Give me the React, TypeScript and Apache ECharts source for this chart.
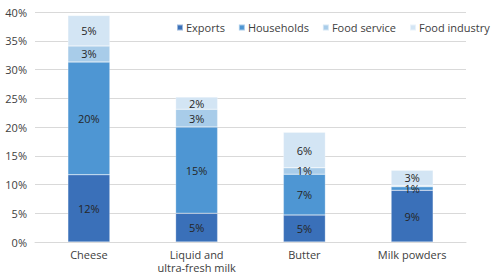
import React, { useEffect, useRef } from "react";
import * as echarts from "echarts";

const categories = ["Cheese", "Liquid and\nultra-fresh milk", "Butter", "Milk powders"];
const seriesNames = ["Exports", "Households", "Food service", "Food industry"];
const exportsVals = [11.7, 5.0, 4.7, 9.0];
const householdsVals = [19.6, 15.0, 7.1, 0.6];
const foodServiceVals = [2.8, 3.1, 1.1, 0.2];
const foodIndustryVals = [5.3, 2.1, 6.2, 2.7];
const colors = ["#3A70B9", "#4E96D3", "#A8CCE9", "#D3E5F4"];
const yTicks = [0, 5, 10, 15, 20, 25, 30, 35, 40];

export default function App() {
  const ref = useRef<HTMLDivElement>(null);
  useEffect(() => {
    if (!ref.current) return;
    const chart = echarts.init(ref.current, undefined, { renderer: "svg" });
    const font = "'Open Sans', sans-serif";
    const data = [exportsVals, householdsVals, foodServiceVals, foodIndustryVals];
    chart.setOption({
      animation: false,
      textStyle: { fontFamily: font },
      color: colors,
      legend: {
        top: 22,
        left: 176,
        width: 400,
        padding: 0,
        itemWidth: 6,
        itemHeight: 6,
        itemGap: 13,
        icon: "rect",
        textStyle: { fontSize: 11, color: "#404040", fontFamily: font, padding: [0, 0, 0, -2] },
        data: seriesNames,
      },
      grid: { left: 35, right: 27, top: 12, bottom: 28, containLabel: false },
      xAxis: {
        type: "category",
        data: categories,
        axisLine: { lineStyle: { color: "#d9d9d9" } },
        axisTick: { show: false },
        axisLabel: { color: "#404040", fontSize: 11, lineHeight: 13, margin: 6, fontFamily: font },
      },
      yAxis: {
        type: "value",
        min: yTicks[0],
        max: yTicks[yTicks.length - 1],
        interval: 5,
        axisLine: { show: false },
        axisTick: { show: false },
        splitLine: { lineStyle: { color: "#d9d9d9" } },
        axisLabel: {
          color: "#404040",
          fontSize: 11,
          margin: 8,
          fontFamily: font,
          formatter: (v: number) => v + "%",
        },
      },
      series: seriesNames.map((name, i) => ({
        name,
        type: "bar",
        stack: "total",
        barWidth: "39%",
        data: data[i],
        itemStyle: { color: colors[i], borderColor: "rgba(255,255,255,0.5)", borderWidth: 0.5 },
        label: {
          show: true,
          position: "inside",
          color: "#262626",
          fontSize: 11,
          fontFamily: font,
          formatter: (p: any) => (p.value < 0.5 ? "" : Math.round(p.value) + "%"),
        },
      })),
    });
    return () => chart.dispose();
  }, []);
  return (
    <div
      ref={ref}
      style={{ position: "fixed", left: 0, top: 0, width: 493, height: 274, background: "#fff" }}
    />
  );
}
